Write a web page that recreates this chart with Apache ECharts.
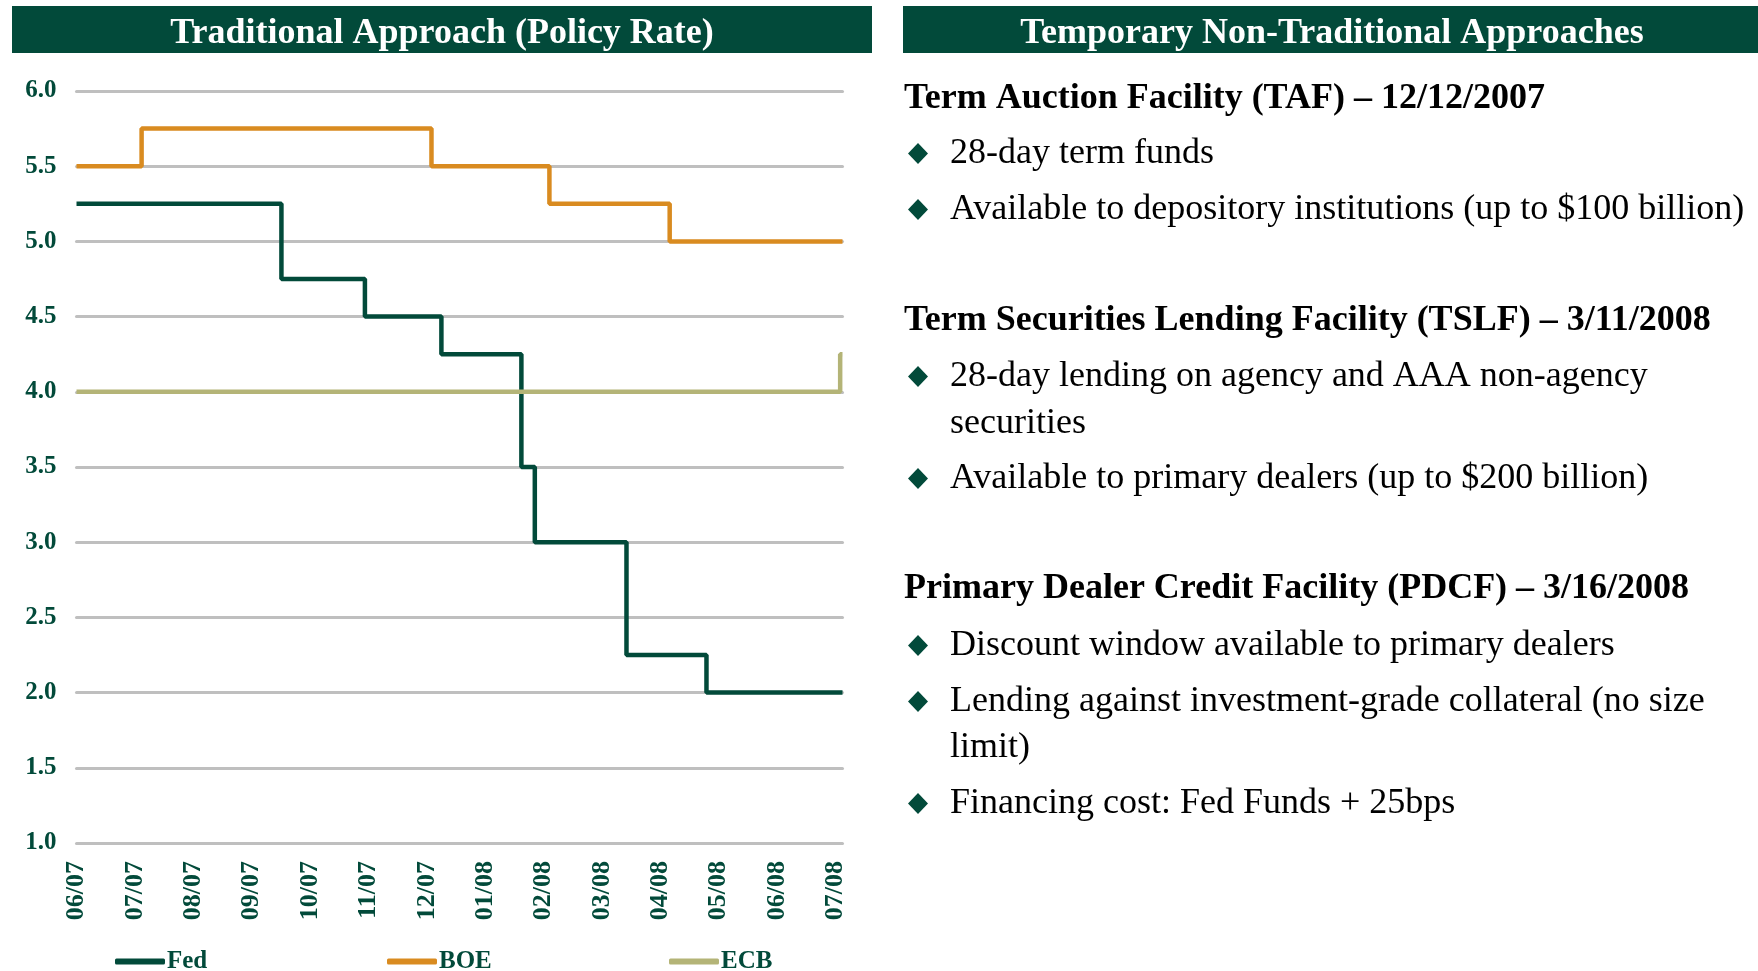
<!DOCTYPE html>
<html>
<head>
<meta charset="utf-8">
<title>Policy Rate</title>
<script src="https://cdn.jsdelivr.net/npm/echarts@6/dist/echarts.min.js"></script>
<style>
  html, body { margin: 0; padding: 0; background: #fff; }
  #boot { width: 1758px; height: 971px; }
</style>
</head>
<body>
<div id="boot"></div>
<script>
// 月份刻度 (x = months since 06/07)
var monthLabels = ['06/07', '07/07', '08/07', '09/07', '10/07', '11/07', '12/07',
                   '01/08', '02/08', '03/08', '04/08', '05/08', '06/08', '07/08'];
var yTicks = [1.0, 1.5, 2.0, 2.5, 3.0, 3.5, 4.0, 4.5, 5.0, 5.5, 6.0];

// rate changes: position on the month axis, new rate
var fedAt   = [0, 3.51, 4.94, 6.25, 7.62, 7.85, 9.42, 10.79, 13.12];
var fedRate = [5.25, 4.75, 4.50, 4.25, 3.50, 3.00, 2.25, 2.00, 2.00];
var boeAt   = [0, 1.115, 6.08, 8.10, 10.16, 13.12];
var boeRate = [5.50, 5.75, 5.50, 5.25, 5.00, 5.00];
var ecbAt   = [0, 13.08, 13.12];
var ecbRate = [4.00, 4.25, 4.25];

var seriesNames = ['Fed', 'BOE', 'ECB'];

var sections = [
  { head: 'Term Auction Facility (TAF) \u2013 12/12/2007', y: 98.5,
    bullets: [['28-day term funds', 153.5],
              ['Available to depository institutions (up to $100 billion)', 209.5]] },
  { head: 'Term Securities Lending Facility (TSLF) \u2013 3/11/2008', y: 320.5,
    bullets: [['28-day lending on agency and AAA non-agency', 376.5, 'securities', 423.5],
              ['Available to primary dealers (up to $200 billion)', 478.5]] },
  { head: 'Primary Dealer Credit Facility (PDCF) \u2013 3/16/2008', y: 588.5,
    bullets: [['Discount window available to primary dealers', 645.5],
              ['Lending against investment-grade collateral (no size', 701.5, 'limit)', 747.5],
              ['Financing cost: Fed Funds + 25bps', 803.5]] }
];

var green = '#024a3a';
var colors = [green, '#d98b20', '#b4b477'];
var serif = '"Liberation Serif", "Times New Roman", serif';

function pairs(xs, ys) {
  return xs.map(function (x, i) { return [x, ys[i]]; });
}

var graphics = [
  { type: 'rect', shape: { x: 12, y: 6, width: 860, height: 47 }, style: { fill: green } },
  { type: 'text', x: 442, y: 34, style: { text: 'Traditional Approach (Policy Rate)', fill: '#fff',
      font: 'bold 36px ' + serif, textAlign: 'center', textVerticalAlign: 'middle' } },
  { type: 'rect', shape: { x: 903, y: 6, width: 855, height: 47 }, style: { fill: green } },
  { type: 'text', x: 1332, y: 34, style: { text: 'Temporary Non-Traditional Approaches', fill: '#fff',
      font: 'bold 36px ' + serif, textAlign: 'center', textVerticalAlign: 'middle' } }
];

sections.forEach(function (s) {
  graphics.push({ type: 'text', x: 904, y: s.y, style: { text: s.head, fill: '#000',
      font: 'bold 36px ' + serif, textVerticalAlign: 'middle' } });
  s.bullets.forEach(function (b) {
    graphics.push({ type: 'polygon', x: 918, y: b[1],
      shape: { points: [[0, -10.5], [10, 0], [0, 10.5], [-10, 0]] }, style: { fill: green } });
    graphics.push({ type: 'text', x: 950, y: b[1], style: { text: b[0], fill: '#000',
        font: '36px ' + serif, textVerticalAlign: 'middle' } });
    if (b[2]) {
      graphics.push({ type: 'text', x: 950, y: b[3], style: { text: b[2], fill: '#000',
          font: '36px ' + serif, textVerticalAlign: 'middle' } });
    }
  });
});

var legendLeft = [115, 387, 669];

var myChart = echarts.init(document.getElementById('boot'));

var option = {
  animation: false,
  backgroundColor: '#fff',
  color: colors,
  grid: { left: 76.5, right: 915.5, top: 91, bottom: 128 },
  legend: seriesNames.map(function (n, i) {
    return {
      data: [n], left: legendLeft[i], top: 949, padding: 0,
      icon: 'roundRect', itemWidth: 50, itemHeight: 6,
      textStyle: { color: green, fontFamily: serif, fontWeight: 'bold', fontSize: 25, padding: [0, 0, 0, -3] }
    };
  }),
  xAxis: {
    type: 'value',
    min: 0,
    max: 13.12,
    interval: 1,
    axisLine: { show: false },
    axisTick: { show: false },
    splitLine: { show: false },
    axisLabel: {
      rotate: 90,
      margin: 18,
      color: green,
      fontFamily: serif,
      fontWeight: 'bold',
      fontSize: 26,
      formatter: function (v) {
        return Math.abs(v - Math.round(v)) < 1e-6 && monthLabels[Math.round(v)] ? monthLabels[Math.round(v)] : '';
      }
    }
  },
  yAxis: {
    type: 'value',
    min: yTicks[0],
    max: yTicks[yTicks.length - 1],
    interval: 0.5,
    axisLine: { show: false },
    axisTick: { show: false },
    axisLabel: {
      margin: 20,
      color: green,
      fontFamily: serif,
      fontWeight: 'bold',
      fontSize: 25,
      formatter: function (v) { return v.toFixed(1); }
    },
    splitLine: { lineStyle: { color: '#bfbfbf', width: 3, cap: 'round' } }
  },
  series: [
    { name: 'Fed', type: 'line', step: 'end', showSymbol: false, data: pairs(fedAt, fedRate),
      lineStyle: { width: 4.5, color: colors[0] } },
    { name: 'BOE', type: 'line', step: 'end', showSymbol: false, data: pairs(boeAt, boeRate),
      lineStyle: { width: 4.5, color: colors[1] } },
    { name: 'ECB', type: 'line', step: 'end', showSymbol: false, data: pairs(ecbAt, ecbRate),
      lineStyle: { width: 4.5, color: colors[2] } }
  ],
  graphic: graphics
};

myChart.setOption(option);
</script>
</body>
</html>
